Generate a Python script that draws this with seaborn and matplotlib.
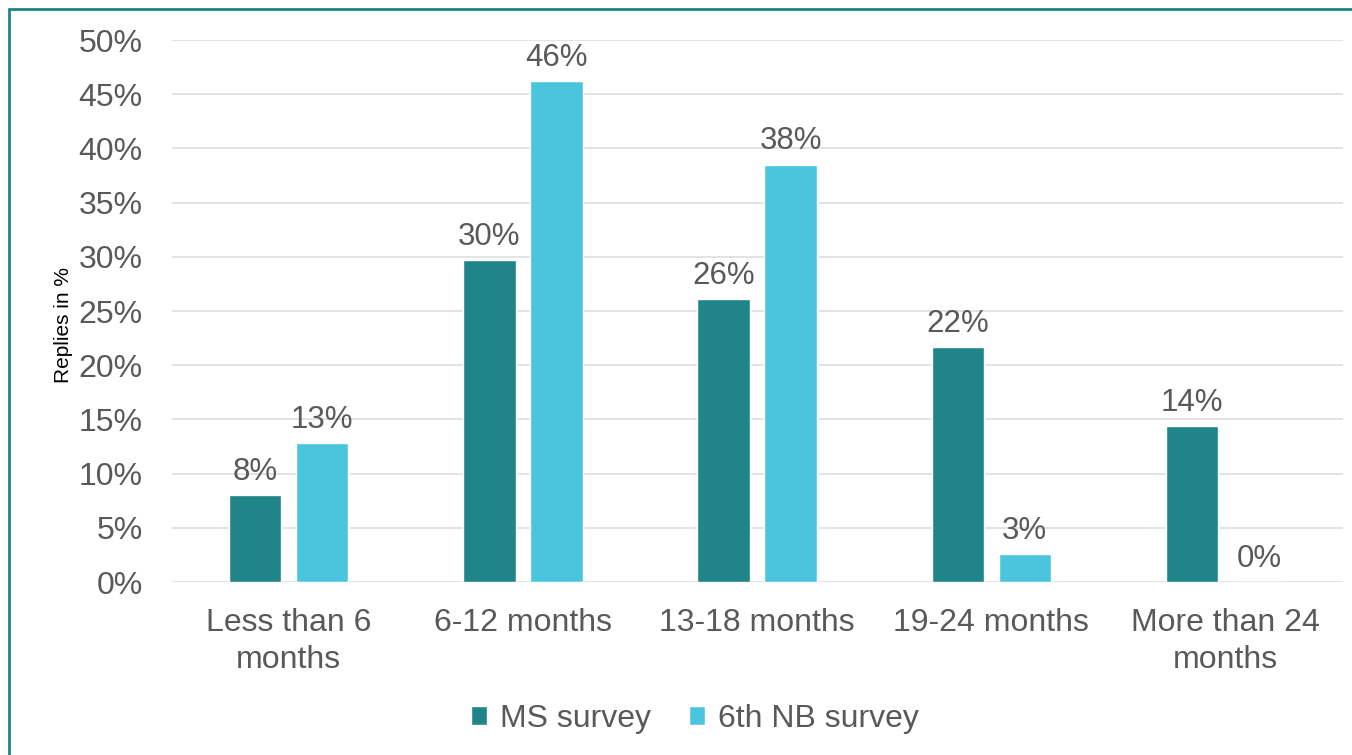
import matplotlib
matplotlib.use("Agg")
import matplotlib.pyplot as plt
import seaborn as sns
import pandas as pd
from matplotlib.lines import Line2D

# data
categories = ["Less than 6\nmonths", "6-12 months", "13-18 months", "19-24 months", "More than 24\nmonths"]
ms_survey = [8.0, 29.7, 26.1, 21.7, 14.4]
nb_survey = [12.8, 46.2, 38.5, 2.6, 0.0]
series = ["MS survey", "6th NB survey"]
yticks = [0, 5, 10, 15, 20, 25, 30, 35, 40, 45, 50]

df = pd.DataFrame({
    "category": categories * 2,
    "value": ms_survey + nb_survey,
    "series": [series[0]] * len(categories) + [series[1]] * len(categories),
})

text_color = "#595959"
sns.set_theme(style="white")
plt.rcParams["font.family"] = ["Liberation Sans", "DejaVu Sans"]

fig = plt.figure(figsize=(13.52, 7.55), dpi=100)
ax = fig.add_axes([0.127, 0.229, 0.866, 0.718])

sns.barplot(data=df, x="category", y="value", hue="series",
            palette=["#1F8589", "#4BC5DE"], width=0.573, gap=0.22,
            saturation=1, ax=ax, legend=True)

for cont in ax.containers:
    ax.bar_label(cont, labels=[f"{v:.0f}%" for v in cont.datavalues],
                 padding=6, fontsize=22.5, color=text_color)

ax.set_ylim(0, 50)
ax.set_yticks(yticks)
ax.set_yticklabels([f"{t}%" for t in yticks], fontsize=23, color=text_color)
ax.tick_params(axis="x", labelsize=23, labelcolor=text_color, length=0, pad=19)
ax.tick_params(axis="y", length=0, pad=21)
for lbl in ax.get_xticklabels():
    lbl.set_linespacing(1.3)
ax.yaxis.grid(True, color="#E0E0E0", linewidth=1.3)
ax.set_axisbelow(True)
for s in ax.spines.values():
    s.set_visible(False)
ax.set_xlabel("")
ax.set_ylabel("Replies in %", fontsize=15, color="black", labelpad=4, y=0.474)
ax.set_xlim(-0.5, 4.5)

handles, labels = ax.get_legend_handles_labels()
ax.legend(handles, labels, loc="center", bbox_to_anchor=(0.514, 0.048),
          bbox_transform=fig.transFigure, ncol=2, frameon=False,
          fontsize=23, labelcolor=text_color, handlelength=0.5,
          handleheight=0.5, handletextpad=0.4, columnspacing=1.2)

# teal frame on the left and top
fig.add_artist(Line2D([8.5 / 1352, 8.5 / 1352], [0, 1 - 8.5 / 755],
                      transform=fig.transFigure, color="#1F8589", linewidth=2))
fig.add_artist(Line2D([8.5 / 1352, 1], [1 - 8.5 / 755, 1 - 8.5 / 755],
                      transform=fig.transFigure, color="#1F8589", linewidth=2))

fig.savefig("out.png", dpi=100)
